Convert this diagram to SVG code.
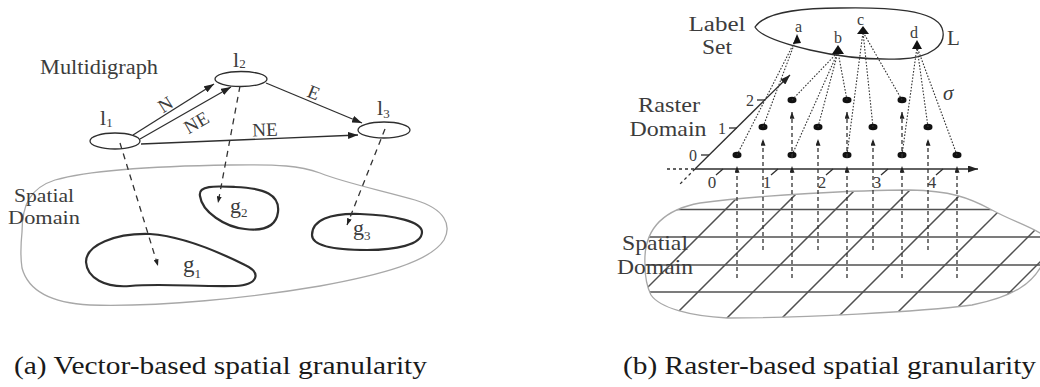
<svg xmlns="http://www.w3.org/2000/svg" width="1040" height="387" viewBox="0 0 1040 387">
  <style>
    .t { font-family: "Liberation Serif", "Times New Roman", serif; fill: #3c3c3c; }
    .cap { font-family: "Liberation Serif", "Times New Roman", serif; fill: #1a1a1a; font-size: 25px; }
    .ln { stroke: #2e2e2e; stroke-width: 1.3; fill: none; }
    .dash { stroke: #333; stroke-width: 1.3; stroke-dasharray: 6 5; fill: none; }
    .dotl { stroke: #333; stroke-width: 1.1; stroke-dasharray: 1.6 1.6; fill: none; }
    .vd { stroke: #333; stroke-width: 1.3; stroke-dasharray: 4 3; fill: none; }
    .blob { fill: none; stroke: #2e2e2e; stroke-width: 2.2; }
    .light { fill: none; stroke: #a8a8a8; stroke-width: 1.3; }
    .grid { stroke: #505050; stroke-width: 1.5; }
    .pt { fill: #111; }
  </style>
  <defs>
    <marker id="arr" viewBox="0 0 10 7" refX="10" refY="3.5" markerWidth="10" markerHeight="7" markerUnits="userSpaceOnUse" orient="auto">
      <path d="M0,0 L10,3.5 L0,7 Z" fill="#222"/>
    </marker>
    <marker id="arrS" viewBox="0 0 8 6" refX="8" refY="3" markerWidth="7" markerHeight="5" markerUnits="userSpaceOnUse" orient="auto">
      <path d="M0,0 L8,3 L0,6 Z" fill="#222"/>
    </marker>
    <clipPath id="sdClip">
      <path d="M645,265 C643,230 662,210 700,203 C760,195 860,190 910,190 C950,191 968,197 992,210 C1012,221 1030,226 1045,236 L1045,258 C1035,284 1012,297 972,305 C920,312 800,318 727,318 C690,316 660,308 651,295 C646,285 645,275 645,265 Z"/>
    </clipPath>
  </defs>

  <!-- ===== (a) vector-based ===== -->
  <text class="t" font-family="Liberation Serif, serif" x="40" y="74" font-size="20" textLength="118" lengthAdjust="spacingAndGlyphs">Multidigraph</text>

  <g id="spatial-domain-a">
    <path class="light" d="M22,232 C22,205 30,188 55,180 C90,170 160,166 230,165 C280,164 300,166 320,173 C345,183 380,190 415,200 C445,209 452,225 444,240 C430,262 380,275 320,286 C250,298 160,307 90,305 C50,303 28,290 22,268 C20,255 21,242 22,232 Z"/>
    <text class="t" font-family="Liberation Serif, serif" font-size="19" text-anchor="middle"><tspan x="44" y="202" textLength="60" lengthAdjust="spacingAndGlyphs">Spatial</tspan><tspan x="44" y="224" textLength="72" lengthAdjust="spacingAndGlyphs">Domain</tspan></text>
  </g>

  <g id="g1">
    <path class="blob" d="M86,262 C86,245 115,233 150,234 C180,236 215,250 245,265 C262,273 258,285 235,286 C200,287 160,283 130,286 C105,288 87,278 86,262 Z"/>
    <text class="t" font-family="Liberation Serif, serif" x="183" y="272" font-size="23">g<tspan font-size="13" dy="6">1</tspan></text>
  </g>
  <g id="g2">
    <path class="blob" d="M200,196 C198,185 215,186 235,187 C265,188 280,195 278,212 C276,228 262,231 245,229 C225,227 202,212 200,196 Z"/>
    <text class="t" font-family="Liberation Serif, serif" x="230" y="213" font-size="22">g<tspan font-size="13" dy="4">2</tspan></text>
  </g>
  <g id="g3">
    <path class="blob" d="M312,235 C312,220 330,213 360,214 C395,215 422,222 422,232 C422,245 395,250 367,250 C335,250 312,246 312,235 Z"/>
    <text class="t" font-family="Liberation Serif, serif" x="353" y="235" font-size="22">g<tspan font-size="13" dy="5">3</tspan></text>
  </g>

  <g id="l1">
    <ellipse class="ln" cx="115" cy="141" rx="25" ry="8"/>
    <text class="t" font-family="Liberation Serif, serif" x="100" y="125" font-size="22">l<tspan font-size="13" dy="2">1</tspan></text>
  </g>
  <g id="l2">
    <ellipse class="ln" cx="241" cy="79" rx="26" ry="7.5"/>
    <text class="t" font-family="Liberation Serif, serif" x="233" y="67" font-size="22">l<tspan font-size="13" dy="1">2</tspan></text>
  </g>
  <g id="l3">
    <ellipse class="ln" cx="384" cy="130" rx="26" ry="8"/>
    <text class="t" font-family="Liberation Serif, serif" x="377" y="115" font-size="22">l<tspan font-size="13" dy="3">3</tspan></text>
  </g>

  <g id="connectors-a">
    <line class="ln" x1="133" y1="135" x2="214" y2="84" marker-end="url(#arr)"/>
    <line class="ln" x1="140" y1="139" x2="231" y2="87" marker-end="url(#arr)"/>
    <line class="ln" x1="266" y1="83" x2="362" y2="123" marker-end="url(#arr)"/>
    <line class="ln" x1="141" y1="144" x2="358" y2="135" marker-end="url(#arr)"/>
    <text class="t" font-family="Liberation Serif, serif" font-size="19" text-anchor="middle" transform="translate(165,104) rotate(-32)" y="7">N</text>
    <text class="t" font-family="Liberation Serif, serif" font-size="19" text-anchor="middle" transform="translate(196,122) rotate(-30)" y="7">NE</text>
    <text class="t" font-family="Liberation Serif, serif" font-size="19" text-anchor="middle" transform="translate(314,92) rotate(22)" y="7">E</text>
    <text class="t" font-family="Liberation Serif, serif" font-size="19" text-anchor="middle" transform="translate(265,130) rotate(-2)" y="6">NE</text>
    <line class="dash" x1="120" y1="143" x2="158" y2="266" marker-end="url(#arrS)"/>
    <line class="dash" x1="240" y1="86" x2="218" y2="203" marker-end="url(#arrS)"/>
    <line class="dash" x1="385" y1="129" x2="347" y2="225" marker-end="url(#arrS)"/>
  </g>

  <!-- ===== (b) raster-based ===== -->
  <g id="spatial-domain-b">
    <g clip-path="url(#sdClip)">
      <line class="grid" x1="674" y1="209.5" x2="1045" y2="209.5"/>
      <line class="grid" x1="640" y1="237" x2="1045" y2="237"/>
      <line class="grid" x1="640" y1="265" x2="1045" y2="265"/>
      <line class="grid" x1="640" y1="292" x2="1045" y2="292"/>
      <line class="grid" x1="797" y1="138" x2="597" y2="338"/>
      <line class="grid" x1="852" y1="138" x2="652" y2="338"/>
      <line class="grid" x1="907" y1="138" x2="707" y2="338"/>
      <line class="grid" x1="962" y1="138" x2="762" y2="338"/>
      <line class="grid" x1="1017" y1="138" x2="817" y2="338"/>
      <line class="grid" x1="1072" y1="138" x2="872" y2="338"/>
      <line class="grid" x1="1127" y1="138" x2="927" y2="338"/>
      <line class="grid" x1="1164" y1="138" x2="964" y2="338"/>
    </g>
    <path class="light" d="M645,265 C643,230 662,210 700,203 C760,195 860,190 910,190 C950,191 968,197 992,210 C1012,221 1030,226 1045,236 L1045,258 C1035,284 1012,297 972,305 C920,312 800,318 727,318 C690,316 660,308 651,295 C646,285 645,275 645,265 Z"/>
    <text class="t" font-family="Liberation Serif, serif" font-size="21" text-anchor="middle"><tspan x="655" y="250" textLength="66" lengthAdjust="spacingAndGlyphs">Spatial</tspan><tspan x="655" y="274" textLength="76" lengthAdjust="spacingAndGlyphs">Domain</tspan></text>
  </g>

  <g id="label-set">
    <path class="ln" stroke-width="1.6" d="M755,27 C765,12 800,8 840,8 C890,7 935,10 942,28 C948,45 930,58 900,59 C870,60 840,57 810,50 C780,43 760,36 755,27 Z"/>
    <text class="t" font-family="Liberation Serif, serif" font-size="20" text-anchor="middle"><tspan x="717" y="31" textLength="57" lengthAdjust="spacingAndGlyphs">Label</tspan><tspan x="717" y="54" textLength="30" lengthAdjust="spacingAndGlyphs">Set</tspan></text>
    <text class="t" font-family="Liberation Serif, serif" x="947" y="45" font-size="21">L</text>
    <text class="t" font-family="Liberation Serif, serif" x="795" y="32" font-size="16">a</text>
    <text class="t" font-family="Liberation Serif, serif" x="834" y="43" font-size="16">b</text>
    <text class="t" font-family="Liberation Serif, serif" x="857" y="25" font-size="16">c</text>
    <text class="t" font-family="Liberation Serif, serif" x="910" y="38" font-size="16">d</text>
  </g>

  <g id="raster-domain">
    <text class="t" font-family="Liberation Serif, serif" font-size="21" text-anchor="middle"><tspan x="669" y="112" textLength="62" lengthAdjust="spacingAndGlyphs">Raster</tspan><tspan x="668" y="136" textLength="77" lengthAdjust="spacingAndGlyphs">Domain</tspan></text>
    <!-- axes -->
    <line class="ln" stroke-width="1.6" x1="695" y1="169" x2="978" y2="169" marker-end="url(#arr)"/>
    <line class="ln" stroke-width="1.6" x1="695" y1="169" x2="790" y2="75" marker-end="url(#arr)"/>
    <line class="ln" stroke-dasharray="3 3" x1="667" y1="169" x2="695" y2="169"/>
    <line class="ln" stroke-dasharray="3 3" x1="695" y1="169" x2="680" y2="184"/>
    <!-- diagonal axis ticks -->
    <line class="ln" x1="701" y1="155" x2="709" y2="155"/>
    <line class="ln" x1="729" y1="128" x2="737" y2="128"/>
    <line class="ln" x1="757" y1="100" x2="765" y2="100"/>
    <text class="t" font-family="Liberation Serif, serif" font-size="16" text-anchor="middle"><tspan x="693" y="161">0</tspan><tspan x="722" y="134">1</tspan><tspan x="750" y="106">2</tspan></text>
    <!-- horizontal axis ticks -->
    <g class="ln">
      <line x1="716" y1="175" x2="723" y2="169"/>
      <line x1="771" y1="175" x2="778" y2="169"/>
      <line x1="826" y1="175" x2="833" y2="169"/>
      <line x1="881" y1="175" x2="888" y2="169"/>
      <line x1="936" y1="175" x2="943" y2="169"/>
    </g>
    <text class="t" font-family="Liberation Serif, serif" font-size="17" text-anchor="middle"><tspan x="712" y="188">0</tspan><tspan x="767" y="188">1</tspan><tspan x="822" y="188">2</tspan><tspan x="877" y="188">3</tspan><tspan x="932" y="188">4</tspan></text>
    <text class="t" font-family="Liberation Serif, serif" x="943" y="100" font-size="21" font-style="italic">σ</text>
    <!-- cells -->
    <ellipse class="pt" cx="737" cy="155" rx="4.5" ry="3.2"/>
    <ellipse class="pt" cx="792" cy="155" rx="4.5" ry="3.2"/>
    <ellipse class="pt" cx="847" cy="155" rx="4.5" ry="3.2"/>
    <ellipse class="pt" cx="902" cy="155" rx="4.5" ry="3.2"/>
    <ellipse class="pt" cx="957" cy="155" rx="4.5" ry="3.2"/>
    <ellipse class="pt" cx="763" cy="127" rx="4.5" ry="3.2"/>
    <ellipse class="pt" cx="818" cy="127" rx="4.5" ry="3.2"/>
    <ellipse class="pt" cx="873" cy="127" rx="4.5" ry="3.2"/>
    <ellipse class="pt" cx="928" cy="127" rx="4.5" ry="3.2"/>
    <ellipse class="pt" cx="792" cy="100" rx="4.5" ry="3.2"/>
    <ellipse class="pt" cx="847" cy="100" rx="4.5" ry="3.2"/>
    <ellipse class="pt" cx="902" cy="100" rx="4.5" ry="3.2"/>
  </g>

  <g id="connectors-b">
    <!-- spatial cells up to raster cells -->
    <line class="vd" x1="737" y1="278" x2="737" y2="166" marker-end="url(#arrS)"/>
    <line class="vd" x1="763" y1="250" x2="763" y2="139" marker-end="url(#arrS)"/>
    <line class="vd" x1="792" y1="278" x2="792" y2="166" marker-end="url(#arrS)"/>
    <line class="vd" x1="792" y1="158" x2="792" y2="112" marker-end="url(#arrS)"/>
    <line class="vd" x1="818" y1="250" x2="818" y2="139" marker-end="url(#arrS)"/>
    <line class="vd" x1="847" y1="278" x2="847" y2="166" marker-end="url(#arrS)"/>
    <line class="vd" x1="847" y1="158" x2="847" y2="112" marker-end="url(#arrS)"/>
    <line class="vd" x1="873" y1="250" x2="873" y2="139" marker-end="url(#arrS)"/>
    <line class="vd" x1="902" y1="278" x2="902" y2="166" marker-end="url(#arrS)"/>
    <line class="vd" x1="902" y1="158" x2="902" y2="112" marker-end="url(#arrS)"/>
    <line class="vd" x1="928" y1="250" x2="928" y2="139" marker-end="url(#arrS)"/>
    <line class="vd" x1="957" y1="278" x2="957" y2="166" marker-end="url(#arrS)"/>
    <!-- raster cells to labels -->
    <line class="dotl" x1="737" y1="155" x2="797" y2="37"/>
    <line class="dotl" x1="763" y1="127" x2="797" y2="37"/>
    <line class="dotl" x1="792" y1="100" x2="838" y2="52"/>
    <line class="dotl" x1="792" y1="155" x2="838" y2="52"/>
    <line class="dotl" x1="818" y1="127" x2="838" y2="52"/>
    <line class="dotl" x1="847" y1="100" x2="838" y2="52"/>
    <line class="dotl" x1="847" y1="155" x2="863" y2="32"/>
    <line class="dotl" x1="873" y1="127" x2="863" y2="32"/>
    <line class="dotl" x1="902" y1="100" x2="863" y2="32"/>
    <line class="dotl" x1="902" y1="155" x2="917" y2="47"/>
    <line class="dotl" x1="928" y1="127" x2="917" y2="47"/>
    <line class="dotl" x1="957" y1="155" x2="917" y2="47"/>
    <!-- arrowheads at labels -->
    <path class="pt" d="M797,34 L793,44 L801,43 Z"/>
    <path class="pt" d="M838,45 L832,54 L844,54 Z"/>
    <path class="pt" d="M863,26 L857,34 L869,34 Z"/>
    <path class="pt" d="M917,40 L912,49 L922,49 Z"/>
  </g>

  <text class="cap" font-family="Liberation Serif, serif" x="14" y="374" textLength="413" lengthAdjust="spacingAndGlyphs">(a) Vector-based spatial granularity</text>
  <text class="cap" font-family="Liberation Serif, serif" x="623" y="374" textLength="413" lengthAdjust="spacingAndGlyphs">(b) Raster-based spatial granularity</text>
</svg>
